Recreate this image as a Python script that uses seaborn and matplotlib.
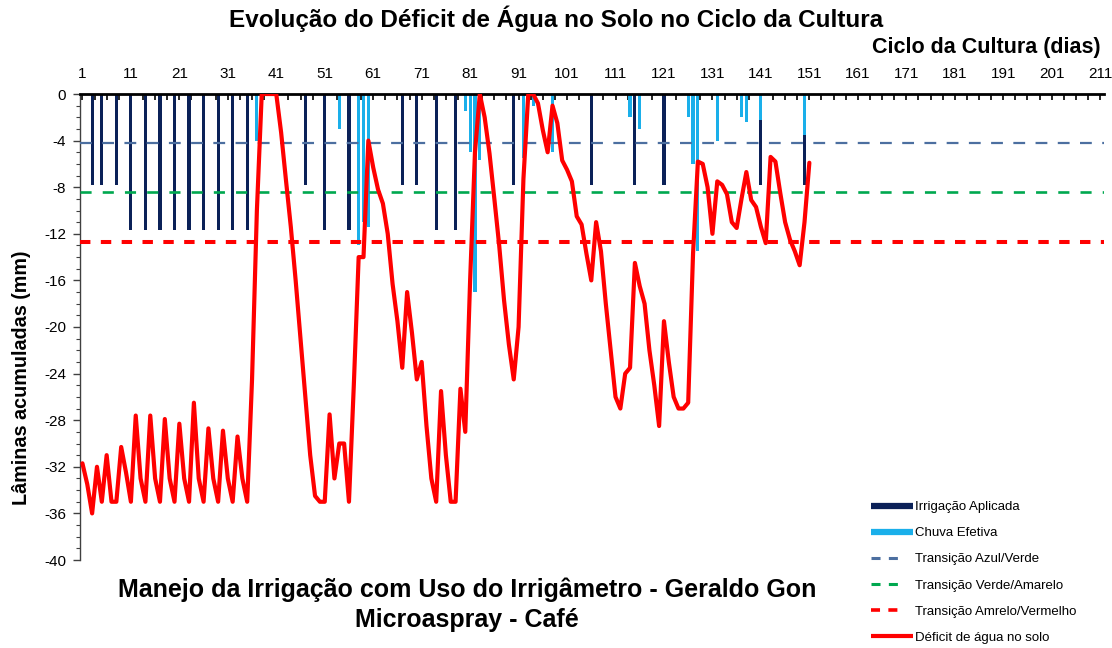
import numpy as np
import pandas as pd
import matplotlib
matplotlib.use("Agg")
import matplotlib.pyplot as plt
import seaborn as sns
from matplotlib.lines import Line2D
from matplotlib.ticker import FixedLocator, MultipleLocator

# ---------------- data ----------------
irrig_days = [3, 5, 8, 11, 14, 17, 20, 23, 26, 29, 32, 35, 47, 51, 56, 67, 70, 74, 78,
              90, 106, 115, 121, 141, 150]
irrig_mm = [-7.8, -7.8, -7.8, -11.7, -11.7, -11.7, -11.7, -11.7, -11.7, -11.7, -11.7, -11.7,
            -7.8, -11.7, -11.7, -7.8, -7.8, -11.7, -11.7, -7.8, -7.8, -7.8, -7.8, -7.8, -7.8]

rain_days = [37, 54, 58, 59, 60, 80, 81, 82, 83, 92, 94, 98, 114, 116, 126, 127, 128,
             132, 137, 138, 141, 150]
rain_mm = [-4, -3, -13, -11, -11.4, -1.5, -5, -17, -5.7, -5.5, -1, -5, -2, -3, -2, -6, -13.5,
           -4, -2, -2.4, -2.2, -3.5]

deficit_mm = [
    -31.7, -33.5, -36, -32, -35, -31, -35, -35, -30.3, -32.5,            # 1-10
    -35, -27.6, -33, -35, -27.6, -33, -35, -27.9, -33, -35,              # 11-20
    -28.3, -33, -35, -26.5, -33, -35, -28.7, -33, -35, -28.9,            # 21-30
    -33, -35, -29.4, -33, -35, -24.5, -10, 0, 0, 0,                      # 31-40
    0, -3.3, -7.4, -11.4, -16, -21, -26, -31, -34.5, -35,                # 41-50
    -35, -27.5, -33, -30, -30, -35, -25, -14, -14, -4,                   # 51-60
    -6.3, -8.2, -9.4, -12, -16.3, -19.5, -23.5, -17, -20.5, -24.5,       # 61-70
    -23, -28.5, -33, -35, -25.5, -31, -35, -35, -25.3, -29,              # 71-80
    -16, -5, 0, -2, -5.1, -9, -13, -17.7, -21.5, -24.5,                  # 81-90
    -20, -7.3, 0, 0, -0.8, -3.1, -5, -1, -2.5, -5.7,                     # 91-100
    -6.5, -7.5, -10.5, -11.2, -13.7, -16, -11, -13.5, -18, -22,          # 101-110
    -26, -27, -24, -23.5, -14.5, -16.5, -18, -22, -25, -28.5,            # 111-120
    -19.5, -23, -26, -27, -27, -26.5, -13.7, -5.8, -6, -8,               # 121-130
    -12, -7.5, -7.8, -8.6, -11, -11.5, -9, -6.7, -9.1, -9.7,             # 131-140
    -11.4, -12.8, -5.4, -5.8, -8.5, -11, -12.5, -13.5, -14.7, -11,       # 141-150
    -5.9,                                                                # 151
]

transition_levels = [-4.2, -8.4, -12.7]
transition_labels = ["Transição Azul/Verde", "Transição Verde/Amarelo",
                     "Transição Amrelo/Vermelho"]
series_labels = ["Irrigação Aplicada", "Chuva Efetiva", "Déficit de água no solo"]

x_tick_days = list(range(1, 212, 10))
x_tick_labels = [str(d) for d in x_tick_days]
y_ticks = list(range(0, -41, -4))
y_tick_labels = [str(v) for v in y_ticks]

# ---------------- style ----------------
sns.set_style("white")
plt.rcParams["font.family"] = ["Liberation Sans", "DejaVu Sans"]
plt.rcParams["lines.scale_dashes"] = False
for k in ["text.color", "axes.labelcolor", "xtick.color", "ytick.color"]:
    plt.rcParams[k] = "black"

NAVY = "#0B2158"
SKY = "#1AAFEA"
BLUE_T = "#4C6FA0"
GREEN_T = "#00A84F"
RED = "#FF0000"

all_days = np.arange(1, 212)
irr_full = pd.Series(irrig_mm, index=irrig_days).reindex(all_days, fill_value=0.0)
rain_full = pd.Series(rain_mm, index=rain_days).reindex(all_days, fill_value=0.0)
df = pd.DataFrame({"dia": all_days, "irrig": irr_full.values, "chuva": rain_full.values})
df_def = pd.DataFrame({"dia": np.arange(1, len(deficit_mm) + 1), "deficit": deficit_mm})

fig = plt.figure(figsize=(11.12, 6.48), dpi=100)
ax = fig.add_axes([80 / 1112, 1 - 560 / 648, (1104 - 80) / 1112, (560 - 94) / 648])

sns.barplot(data=df, x="dia", y="irrig", native_scale=True, width=0.65,
            color=NAVY, saturation=1, errorbar=None, linewidth=0, ax=ax)
sns.barplot(data=df, x="dia", y="chuva", native_scale=True, width=0.65,
            color=SKY, saturation=1, errorbar=None, linewidth=0, ax=ax)

ax.axhline(transition_levels[0], color=BLUE_T, lw=1.6, dashes=(8.5, 7.5), zorder=3)
ax.axhline(transition_levels[1], color=GREEN_T, lw=1.9, dashes=(8.0, 8.0), zorder=3)
ax.axhline(transition_levels[2], color=RED, lw=2.9, dashes=(7.5, 7.5), zorder=3)

sns.lineplot(data=df_def, x="dia", y="deficit", color=RED, lw=3.0, legend=False,
             ax=ax, zorder=5)

ax.set_xlim(0.5, 211.8)
ax.set_ylim(-40, 0)
ax.set_xlabel("")
ax.set_ylabel("")

# axes / ticks
for s in ["bottom", "right"]:
    ax.spines[s].set_visible(False)
ax.spines["top"].set_linewidth(2.0)
ax.spines["top"].set_color("black")
ax.spines["left"].set_linewidth(1.0)
ax.spines["left"].set_color("#404040")

ax.xaxis.tick_top()
ax.xaxis.set_major_locator(FixedLocator(x_tick_days))
ax.set_xticklabels(x_tick_labels)
ax.xaxis.set_minor_locator(FixedLocator(np.arange(1, 212, 2.5)))
ax.tick_params(axis="x", which="both", direction="in", length=4, width=1.2,
               color="black", pad=9, labelsize=11, top=True, bottom=False)

ax.yaxis.set_major_locator(FixedLocator(y_ticks))
ax.set_yticklabels(y_tick_labels)
ax.yaxis.set_minor_locator(MultipleLocator(1))
ax.tick_params(axis="y", which="major", direction="out", length=5, width=1,
               color="#404040", pad=5, labelsize=11, left=True)
ax.tick_params(axis="y", which="minor", direction="out", length=3, width=0.8,
               color="#404040", left=True)
ax.grid(False)

# texts
fig.text(0.5, 1 - 19 / 648, "Evolução do Déficit de Água no Solo no Ciclo da Cultura",
         ha="center", va="center", fontsize=17.5, fontweight="bold")
fig.text(1101 / 1112, 1 - 48 / 648, "Ciclo da Cultura (dias)", ha="right", va="center",
         fontsize=15.5, fontweight="bold")
fig.text(22 / 1112, 1 - 378 / 648, "Lâminas acumuladas (mm)", rotation=90,
         ha="center", va="center", fontsize=14.2, fontweight="bold")
fig.text(467 / 1112, 1 - 590 / 648,
         "Manejo da Irrigação com Uso do Irrigâmetro - Geraldo Gon",
         ha="center", va="center", fontsize=18, fontweight="bold")
fig.text(467 / 1112, 1 - 620 / 648, "Microaspray - Café",
         ha="center", va="center", fontsize=18, fontweight="bold")

# legend
handles = [
    Line2D([], [], color=NAVY, lw=4.5, solid_capstyle="butt"),
    Line2D([], [], color=SKY, lw=4.5, solid_capstyle="butt"),
    Line2D([], [], color=BLUE_T, lw=2.2, dashes=(6.5, 6, 6.5, 40)),
    Line2D([], [], color=GREEN_T, lw=2.2, dashes=(6.5, 6, 6.5, 40)),
    Line2D([], [], color=RED, lw=2.6, dashes=(6.5, 6, 6.5, 40)),
    Line2D([], [], color=RED, lw=3.0, solid_capstyle="butt"),
]
labels = [series_labels[0], series_labels[1]] + transition_labels + [series_labels[2]]
fig.legend(handles, labels, loc="upper left", bbox_to_anchor=(871 / 1112, 1 - 501 / 648),
           frameon=False, fontsize=9.5, handlelength=3.2, handletextpad=0.15,
           labelspacing=1.05, borderpad=0, borderaxespad=0)

fig.savefig("out.png", dpi=100)
